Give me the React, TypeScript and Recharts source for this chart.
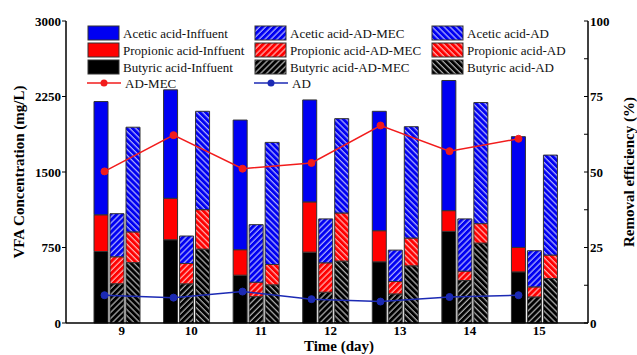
import { ComposedChart, Bar, Line, XAxis, YAxis } from "recharts";

// values (mg/L and %)
const days = ["9", "10", "11", "12", "13", "14", "15"];

const butyricInfluent = [710, 827, 475, 704, 608, 910, 508];
const propionicInfluent = [365, 412, 253, 499, 309, 206, 243];
const aceticInfluent = [1125, 1077, 1288, 1013, 1186, 1293, 1100];

const butyricMec = [390, 389, 262, 306, 289, 422, 259];
const propionicMec = [268, 202, 143, 292, 123, 93, 100];
const aceticMec = [428, 273, 572, 436, 312, 519, 359];

const butyricAd = [600, 734, 379, 615, 568, 794, 442];
const propionicAd = [305, 392, 202, 478, 276, 193, 233];
const aceticAd = [1040, 977, 1213, 937, 1106, 1203, 993];

const removalMec = [50.2, 62.2, 51.1, 53.0, 65.4, 56.9, 61.0];
const removalAd = [9.2, 8.4, 10.4, 7.9, 7.1, 8.6, 9.2];

const leftTicks = [0, 750, 1500, 2250, 3000];
const leftMinorTicks = [375, 1125, 1875, 2625];
const rightTicks = [0, 12.5, 25, 37.5, 50, 62.5, 75, 87.5, 100];

const BLUE = "#0000f2";
const RED = "#ff0000";
const BLACK = "#000000";
const LINE_RED = "#f21c1c";
const LINE_BLUE = "#1c2ab4";
const EDGE = "#333333";
const FONT = '"Times New Roman", "Liberation Serif", Tinos, serif';

const rows = days.map((day, i) => ({
  day,
  butInf: butyricInfluent[i],
  proInf: propionicInfluent[i],
  aceInf: aceticInfluent[i],
  butMec: butyricMec[i],
  proMec: propionicMec[i],
  aceMec: aceticMec[i],
  butAd: butyricAd[i],
  proAd: propionicAd[i],
  aceAd: aceticAd[i],
  remMec: removalMec[i],
  remAd: removalAd[i],
}));

const colors: Record<string, string> = { blue: BLUE, red: RED, black: BLACK };

function hatchDefs(prefix: string) {
  const out: JSX.Element[] = [];
  for (const kind of ["mec", "ad"]) {
    for (const c of Object.keys(colors)) {
      out.push(
        <pattern
          key={prefix + kind + c}
          id={`${prefix}-${kind}-${c}`}
          width={4.2}
          height={4.2}
          patternUnits="userSpaceOnUse"
          patternTransform={kind === "mec" ? "rotate(45)" : "rotate(-45)"}
        >
          <rect width={4.2} height={4.2} fill={colors[c]} />
          <line x1={1} y1={0} x2={1} y2={4.2} stroke="#ffffff" strokeOpacity={0.85} strokeWidth={1} />
        </pattern>
      );
    }
  }
  return <defs>{out}</defs>;
}

const barLegend = [
  [
    { label: "Acetic acid-Inffuent", fill: BLUE },
    { label: "Propionic acid-Inffuent", fill: RED },
    { label: "Butyric acid-Inffuent", fill: BLACK },
  ],
  [
    { label: "Acetic acid-AD-MEC", fill: "url(#lg-mec-blue)" },
    { label: "Propionic acid-AD-MEC", fill: "url(#lg-mec-red)" },
    { label: "Butyric acid-AD-MEC", fill: "url(#lg-mec-black)" },
  ],
  [
    { label: "Acetic acid-AD", fill: "url(#lg-ad-blue)" },
    { label: "Propionic acid-AD", fill: "url(#lg-ad-red)" },
    { label: "Butyric acid-AD", fill: "url(#lg-ad-black)" },
  ],
];
const lineLegend = [
  { label: "AD-MEC", color: LINE_RED },
  { label: "AD", color: LINE_BLUE },
];
const legendCols = [88, 255, 432];

const legendText = { fontFamily: FONT, fontSize: 13, fill: "#111" };

function ChartLegend() {
  return (
    <svg width={637} height={100} style={{ position: "absolute", left: 0, top: 0, pointerEvents: "none" }}>
      {hatchDefs("lg")}
      {barLegend.map((col, ci) =>
        col.map((item, ri) => (
          <g key={item.label}>
            <rect x={legendCols[ci]} y={26 + ri * 17} width={31} height={14} fill={item.fill} stroke={EDGE} strokeWidth={1} />
            <text x={legendCols[ci] + 35} y={37.5 + ri * 17} style={legendText}>
              {item.label}
            </text>
          </g>
        ))
      )}
      {lineLegend.map((item, ci) => (
        <g key={item.label}>
          <line x1={legendCols[ci] - 1} x2={legendCols[ci] + 33} y1={83} y2={83} stroke={item.color} strokeWidth={1.5} />
          <circle cx={legendCols[ci] + 16} cy={83} r={3.5} fill={item.color} />
          <text x={legendCols[ci] + 37} y={87.5} style={legendText}>
            {item.label}
          </text>
        </g>
      ))}
    </svg>
  );
}

const tickStyle = { fontFamily: FONT, fontSize: 13, fontWeight: 700, fill: "#000" };
const titleStyle = { fontFamily: FONT, fontSize: 15, fontWeight: 700, fill: "#000" };

function DayTick(props: any) {
  const { x, y, payload } = props;
  return (
    <text x={x + 5} y={y + 4} textAnchor="middle" style={tickStyle}>
      {payload.value}
    </text>
  );
}

function LeftTitle(props: any) {
  const vb = props.viewBox;
  const cx = vb.x + 19;
  const cy = vb.y + vb.height / 2;
  return (
    <text x={cx} y={cy} transform={`rotate(-90 ${cx} ${cy})`} textAnchor="middle" dominantBaseline="central" style={titleStyle}>
      VFA Concentration (mg/L)
    </text>
  );
}

function RightTitle(props: any) {
  const vb = props.viewBox;
  const cx = vb.x + 41;
  const cy = vb.y + vb.height / 2;
  return (
    <text x={cx} y={cy} transform={`rotate(-90 ${cx} ${cy})`} textAnchor="middle" dominantBaseline="central" style={titleStyle}>
      Removal efficiency (%)
    </text>
  );
}

function BottomTitle(props: any) {
  const vb = props.viewBox;
  return (
    <text x={vb.x + vb.width / 2 + 12} y={vb.y + 28} textAnchor="middle" style={titleStyle}>
      Time (day)
    </text>
  );
}

export default function App() {
  return (
    <div style={{ position: "absolute", left: 0, top: 0, width: 637, height: 355, background: "#fff" }}>
      <ComposedChart
        width={637}
        height={355}
        data={rows}
        margin={{ top: 21, right: 0, bottom: 0, left: 0 }}
        barSize={14}
        barGap={2}
      >
        {hatchDefs("ch")}
        <XAxis
          xAxisId="bar"
          dataKey="day"
          height={32}
          padding={{ left: 16, right: 19 }}
          axisLine={{ stroke: "#000", strokeWidth: 1.5 }}
          tickLine={false}
          tick={<DayTick />}
          label={BottomTitle}
        />
        <XAxis xAxisId="line" dataKey="day" hide padding={{ left: 4, right: 35 }} />
        <XAxis
          xAxisId="top"
          orientation="top"
          dataKey="day"
          height={0}
          tick={false}
          tickLine={false}
          axisLine={{ stroke: "#000", strokeWidth: 1.5 }}
        />
        <YAxis
          yAxisId="minor"
          orientation="left"
          width={0}
          domain={[0, 3000]}
          ticks={leftMinorTicks}
          tickSize={-4}
          tickFormatter={() => ""}
          axisLine={false}
          tickLine={{ stroke: "#000" }}
        />
        <YAxis
          yAxisId="left"
          orientation="left"
          width={66}
          domain={[0, 3000]}
          ticks={leftTicks}
          interval={0}
          tickSize={4}
          tickMargin={1}
          axisLine={{ stroke: "#000", strokeWidth: 1.5 }}
          tickLine={{ stroke: "#000" }}
          tick={tickStyle}
          label={LeftTitle}
        />
        <YAxis
          yAxisId="right"
          orientation="right"
          width={49}
          domain={[0, 100]}
          ticks={rightTicks}
          interval={0}
          tickSize={-4}
          tickMargin={6}
          tickFormatter={(v: number) => (v % 25 === 0 ? String(v) : "")}
          axisLine={{ stroke: "#000", strokeWidth: 1.5 }}
          tickLine={{ stroke: "#000" }}
          tick={tickStyle}
          label={RightTitle}
        />

        <Bar xAxisId="bar" yAxisId="left" stackId="inf" dataKey="butInf" fill={BLACK} stroke={EDGE} isAnimationActive={false} />
        <Bar xAxisId="bar" yAxisId="left" stackId="inf" dataKey="proInf" fill={RED} stroke={EDGE} isAnimationActive={false} />
        <Bar xAxisId="bar" yAxisId="left" stackId="inf" dataKey="aceInf" fill={BLUE} stroke={EDGE} isAnimationActive={false} />

        <Bar xAxisId="bar" yAxisId="left" stackId="mec" dataKey="butMec" fill="url(#ch-mec-black)" stroke={EDGE} isAnimationActive={false} />
        <Bar xAxisId="bar" yAxisId="left" stackId="mec" dataKey="proMec" fill="url(#ch-mec-red)" stroke={EDGE} isAnimationActive={false} />
        <Bar xAxisId="bar" yAxisId="left" stackId="mec" dataKey="aceMec" fill="url(#ch-mec-blue)" stroke={EDGE} isAnimationActive={false} />

        <Bar xAxisId="bar" yAxisId="left" stackId="ad" dataKey="butAd" fill="url(#ch-ad-black)" stroke={EDGE} isAnimationActive={false} />
        <Bar xAxisId="bar" yAxisId="left" stackId="ad" dataKey="proAd" fill="url(#ch-ad-red)" stroke={EDGE} isAnimationActive={false} />
        <Bar xAxisId="bar" yAxisId="left" stackId="ad" dataKey="aceAd" fill="url(#ch-ad-blue)" stroke={EDGE} isAnimationActive={false} />

        <Line
          xAxisId="line"
          yAxisId="right"
          dataKey="remMec"
          stroke={LINE_RED}
          strokeWidth={1.5}
          dot={{ r: 3.5, fill: LINE_RED, stroke: LINE_RED, strokeWidth: 1 }}
          isAnimationActive={false}
        />
        <Line
          xAxisId="line"
          yAxisId="right"
          dataKey="remAd"
          stroke={LINE_BLUE}
          strokeWidth={1.5}
          dot={{ r: 3.5, fill: LINE_BLUE, stroke: LINE_BLUE, strokeWidth: 1 }}
          isAnimationActive={false}
        />
      </ComposedChart>
      <ChartLegend />
    </div>
  );
}
